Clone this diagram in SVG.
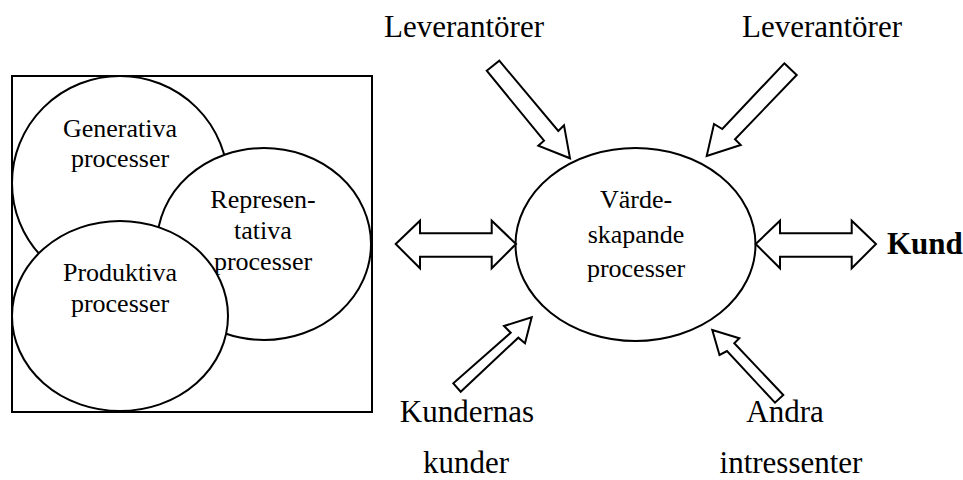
<svg xmlns="http://www.w3.org/2000/svg" width="963" height="480" viewBox="0 0 963 480">
  <style>
    .shape { fill: #fff; stroke: #000; stroke-width: 2; }
    .arrow { fill: #fff; stroke: #000; stroke-width: 2; stroke-linejoin: miter; }
    .small { font-family: "Liberation Serif", "Times New Roman", serif; font-size: 26px; fill: #000; text-anchor: middle; }
    .big { font-family: "Liberation Serif", "Times New Roman", serif; font-size: 31px; fill: #000; text-anchor: middle; }
    .bold { font-weight: bold; text-anchor: start; }
  </style>
  <rect width="963" height="480" fill="#fff"/>

  <!-- process cluster frame -->
  <g id="frame">
    <rect class="shape" x="12" y="76" width="360" height="336"/>
  </g>
  <g id="generativa">
    <ellipse class="shape" cx="120" cy="183" rx="108" ry="107"/>
    <text class="small" x="120" y="137">Generativa</text>
    <text class="small" x="120" y="167">processer</text>
  </g>
  <g id="representativa">
    <ellipse class="shape" cx="264" cy="244" rx="107" ry="96"/>
    <text class="small" x="263" y="208">Represen-</text>
    <text class="small" x="263" y="239">tativa</text>
    <text class="small" x="263" y="270">processer</text>
  </g>
  <g id="produktiva">
    <ellipse class="shape" cx="120" cy="316" rx="108" ry="95"/>
    <text class="small" x="120" y="281">Produktiva</text>
    <text class="small" x="120" y="312">processer</text>
  </g>

  <!-- central process -->
  <g id="vardeskapande">
    <ellipse class="shape" cx="635.5" cy="244.5" rx="120" ry="96.5"/>
    <text class="small" x="636" y="208">Värde-</text>
    <text class="small" x="636" y="243">skapande</text>
    <text class="small" x="636" y="277">processer</text>
  </g>

  <!-- surrounding actors -->
  <g id="leverantorer-left"><text class="big" x="464" y="37">Leverantörer</text></g>
  <g id="leverantorer-right"><text class="big" x="822" y="37">Leverantörer</text></g>
  <g id="kund"><text class="big bold" x="887" y="254">Kund</text></g>
  <g id="kundernas-kunder">
    <text class="big" x="467" y="422">Kundernas</text>
    <text class="big" x="466" y="473">kunder</text>
  </g>
  <g id="andra-intressenter">
    <text class="big" x="785" y="422">Andra</text>
    <text class="big" x="791" y="473">intressenter</text>
  </g>

  <!-- block arrows -->
  <g id="connectors">
    <polygon class="arrow" points="486.7,70.7 499.3,60.7 558.3,131 564,125.3 570,158.3 538.3,145.7 544,140.7"/>
    <polygon class="arrow" points="784.3,63.3 796.7,75 735,139.3 740.7,145 706.7,156 714,124 722.3,129"/>
    <polygon class="arrow" points="395.7,244 420,220.7 420,233.3 491.7,233.3 491.7,220.7 516,244 491.7,268.3 491.7,256.7 420,256.7 420,268.3"/>
    <polygon class="arrow" points="755.7,244 780,220.7 780,233.3 851.7,233.3 851.7,220.7 876,244 851.7,268.3 851.7,256.7 780,256.7 780,268.3"/>
    <polygon class="arrow" points="453.3,383.3 460.7,391.7 518.3,337.7 525,343.3 531.7,317.3 504,326 510.7,332.7"/>
    <polygon class="arrow" points="712.3,330 739.3,338.3 734.3,343.3 783.3,395 775,402.7 727,351 719.5,355"/>
  </g>
</svg>
